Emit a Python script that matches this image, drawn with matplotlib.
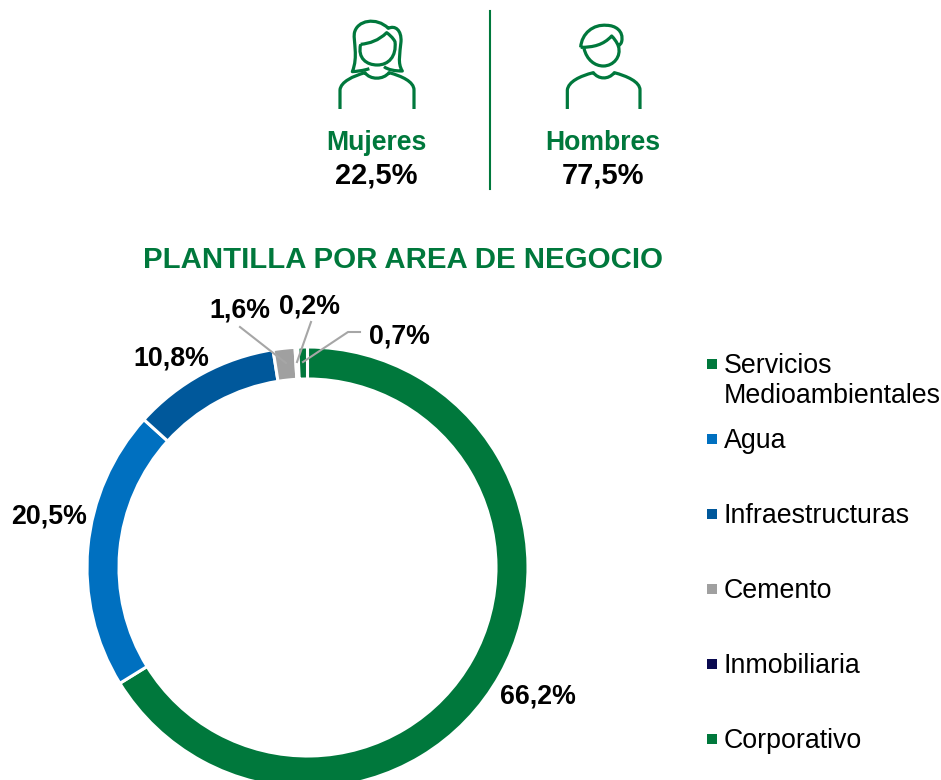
import matplotlib
matplotlib.use("Agg")
import matplotlib.pyplot as plt
from matplotlib.path import Path
from matplotlib.patches import PathPatch, Rectangle

plt.rcParams['font.family'] = ['Liberation Sans', 'DejaVu Sans']

# Data
areas = ["Servicios\nMedioambientales", "Agua", "Infraestructuras", "Cemento", "Inmobiliaria", "Corporativo"]
shares = [66.2, 20.5, 10.8, 1.6, 0.2, 0.7]
area_colors = ["#00783C", "#0070C0", "#00589B", "#A0A0A0", "#0A0A50", "#00783C"]
genders = ["Mujeres", "Hombres"]
gender_shares = ["22,5%", "77,5%"]
title = "PLANTILLA POR AREA DE NEGOCIO"

GREEN = "#00783C"
LEADER = "#A6A6A6"

fig = plt.figure(figsize=(9.41, 7.8), dpi=100)
ax = fig.add_axes([0, 0, 1, 1])

# Donut (y axis is flipped, so counterclock reads clockwise on screen)
ax.pie(shares, colors=area_colors, center=(307.5, 567.5), radius=220.5, startangle=-90,
       counterclock=True, frame=True,
       wedgeprops={"width": 32, "edgecolor": "white", "linewidth": 2.2})

# pixel axes
ax.set_xlim(0, 941)
ax.set_ylim(780, 0)
ax.axis("off")

# Data labels
label_pos = [(538, 696), (49, 517), (171, 358), (240, 311), (310, 307), (399, 336)]
for v, (x, y) in zip(shares, label_pos):
    ax.text(x, y, f"{v:.1f}%".replace(".", ","), fontsize=19.3, fontweight="bold",
            color="black", ha="center", va="center")

# Leader lines
for xs, ys in [([240, 286], [327, 363]), ([311, 297], [322, 362]), ([360, 348, 303], [332, 332, 362])]:
    ax.plot(xs, ys, color=LEADER, lw=1.5, zorder=5)

# Legend
legend_y = [364, 439, 514, 589, 664, 739]
for name, color, y in zip(areas, area_colors, legend_y):
    ax.add_patch(Rectangle((707, y - 5), 10, 10, facecolor=color, edgecolor="none"))
    for i, line in enumerate(name.split("\n")):
        ax.text(724, y + 2 + i * 30, line, fontsize=19.3, color="black", ha="left", va="center")

# Title
ax.text(403, 260, title, fontsize=21.2, fontweight="bold", color=GREEN, ha="center", va="center")

# Gender block
ax.plot([490, 490], [11, 189], color=GREEN, lw=1.5)
for name, share, x in zip(genders, gender_shares, [376.5, 603]):
    ax.text(x, 143, name, fontsize=19.2, fontweight="bold", color=GREEN, ha="center", va="center")
    ax.text(x, 175, share, fontsize=21, fontweight="bold", color="black", ha="center", va="center")


# Icons, traced in coordinates of a 3x crop starting at x=320
def icon(verts, codes):
    pts = [(320 + a / 3, b / 3) for a, b in verts]
    ax.add_patch(PathPatch(Path(pts, codes), facecolor="none", edgecolor=GREEN, lw=2.3,
                           capstyle="butt", joinstyle="round"))


M, L, C = Path.MOVETO, Path.LINETO, Path.CURVE4

# woman
icon([(60, 327), (60, 270), (62, 245), (100, 228), (135, 218),
      (150, 240), (190, 240), (207, 218), (245, 228), (282, 245), (282, 270), (282, 327)],
     [M, L, C, C, C, C, C, C, C, C, C, L])
icon([(122, 133), (112, 175), (140, 195), (172, 195), (205, 195), (230, 170), (225, 125), (218, 112), (208, 104), (200, 98),
      (175, 122), (150, 130), (122, 133)],
     [M, C, C, C, C, C, C, C, C, C, C, C, C])
icon([(148, 206), (130, 212), (110, 214), (97, 215), (115, 170), (100, 125), (103, 100),
      (110, 60), (170, 50), (205, 85), (225, 75), (245, 90), (243, 125),
      (240, 160), (232, 190), (247, 213), (225, 213), (205, 210), (192, 200)],
     [M, C, C, C, C, C, C, C, C, C, C, C, C, C, C, C, C, C, C])

# man
icon([(742, 327), (742, 270), (745, 245), (780, 228), (820, 218),
      (835, 238), (865, 240), (883, 218), (920, 228), (960, 245), (960, 270), (960, 327)],
     [M, L, C, C, C, C, C, C, C, C, C, L])
icon([(792, 145), (800, 180), (825, 198), (850, 198), (880, 198), (905, 170), (895, 138)],
     [M, C, C, C, C, C, C])
icon([(782, 142), (785, 100), (820, 72), (860, 76), (885, 76), (912, 92), (905, 125),
      (903, 132), (898, 136), (895, 138), (890, 125), (882, 115), (875, 108),
      (850, 135), (820, 142), (782, 142)],
     [M, C, C, C, C, C, C, C, C, C, C, C, C, C, C, C])

plt.savefig("out.png", dpi=100)
